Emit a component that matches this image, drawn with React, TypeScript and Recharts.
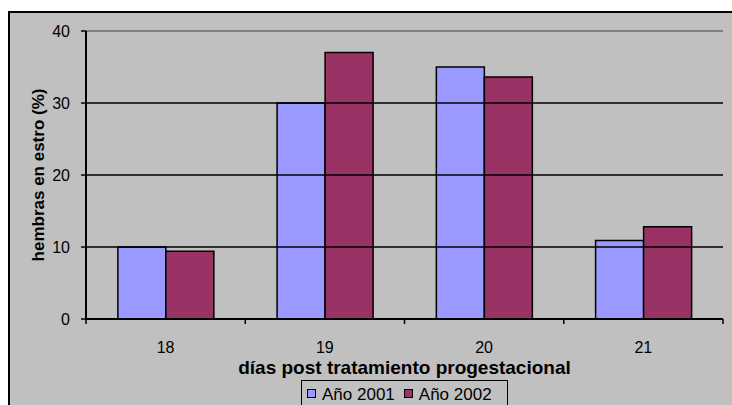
import React from "react"
import {
  BarChart,
  Bar,
  XAxis,
  YAxis,
  ReferenceLine,
  Label,
} from "recharts"

const days = ["18", "19", "20", "21"]
const year2001 = [10, 30, 35, 10.9]
const year2002 = [9.4, 37, 33.6, 12.8]
const yTicks = [0, 10, 20, 30, 40]

const series = [
  { key: "a2001", name: "Año 2001", color: "#9999FF" },
  { key: "a2002", name: "Año 2002", color: "#993366" },
]

const data = days.map((day, i) => ({
  day,
  a2001: year2001[i],
  a2002: year2002[i],
}))

const FONT = "'Liberation Sans', Arial, sans-serif"
const BAND = (723 - 86) / days.length

// category label centred, tick marks drawn on the band edges
const DayTick = ({ x, y, payload, index }: any) => (
  <g>
    {index === 0 && (
      <line x1={x - BAND / 2} x2={x - BAND / 2} y1={y - 8} y2={y - 3} stroke="#000" strokeWidth={1.5} />
    )}
    <line x1={x + BAND / 2} x2={x + BAND / 2} y1={y - 8} y2={y - 3} stroke="#000" strokeWidth={1.5} />
    <text x={x} y={y + 26} textAnchor="middle" fontSize={16} fill="#000" fontFamily={FONT}>
      {payload.value}
    </text>
  </g>
)

export default function App() {
  return (
    <div
      style={{
        position: "absolute",
        left: 0,
        top: 0,
        width: 732,
        height: 405,
        overflow: "hidden",
        background: "#fff",
        fontFamily: FONT,
      }}
    >
      <div
        style={{
          position: "absolute",
          left: 8,
          top: 11,
          width: 740,
          height: 420,
          border: "2px solid #000",
          background: "#C0C0C0",
        }}
      />
      <div style={{ position: "absolute", left: 0, top: 0 }}>
        <BarChart
          width={732}
          height={405}
          data={data}
          margin={{ top: 31, right: 9, left: 26, bottom: 56 }}
          barCategoryGap="20%"
          barGap={0}
        >
          <XAxis
            dataKey="day"
            tickLine={false}
            axisLine={{ stroke: "#000", strokeWidth: 2 }}
            tick={<DayTick />}
            height={30}
            interval={0}
          >
            <Label
              value="días post tratamiento progestacional"
              position="insideBottom"
              offset={-25}
              style={{ fontSize: 19, fontWeight: "bold", fill: "#000", fontFamily: FONT }}
            />
          </XAxis>
          <YAxis
            domain={[0, 40]}
            ticks={yTicks}
            interval={0}
            width={60}
            tickSize={5}
            tickMargin={11}
            tickLine={{ stroke: "#000", strokeWidth: 1.5 }}
            axisLine={{ stroke: "#000", strokeWidth: 2 }}
            tick={{ fontSize: 16, fill: "#000", fontFamily: FONT }}
          >
            <Label
              value="hembras en estro (%)"
              angle={-90}
              position="insideLeft"
              offset={12}
              style={{ textAnchor: "middle", fontSize: 17, fontWeight: "bold", fill: "#000", fontFamily: FONT }}
            />
          </YAxis>
          <YAxis
            yAxisId="frame"
            orientation="right"
            domain={[0, 40]}
            width={0}
            tick={false}
            tickLine={false}
            axisLine={{ stroke: "#808080", strokeWidth: 2 }}
          />
          {[10, 20, 30].map((v) => (
            <ReferenceLine key={v} y={v} stroke="#000" strokeWidth={1.5} />
          ))}
          <ReferenceLine y={40} stroke="#808080" strokeWidth={2} />
          {series.map((s) => (
            <Bar
              key={s.key}
              dataKey={s.key}
              name={s.name}
              fill={s.color}
              stroke="#000"
              strokeWidth={1.5}
              isAnimationActive={false}
            />
          ))}
        </BarChart>
      </div>
      <div
        style={{
          position: "absolute",
          left: 301,
          top: 380,
          width: 207,
          height: 40,
          border: "1.5px solid #000",
          display: "flex",
          alignItems: "flex-start",
          paddingTop: 4,
          boxSizing: "border-box",
          fontSize: 17,
        }}
      >
        {series.map((s) => (
          <div key={s.key} style={{ display: "flex", alignItems: "center", marginLeft: 5, marginRight: 4 }}>
            <span
              style={{
                display: "inline-block",
                width: 7,
                height: 7,
                background: s.color,
                border: "1.5px solid #000",
                marginRight: 6,
                marginTop: -4,
              }}
            />
            <span>{s.name}</span>
          </div>
        ))}
      </div>
    </div>
  )
}
